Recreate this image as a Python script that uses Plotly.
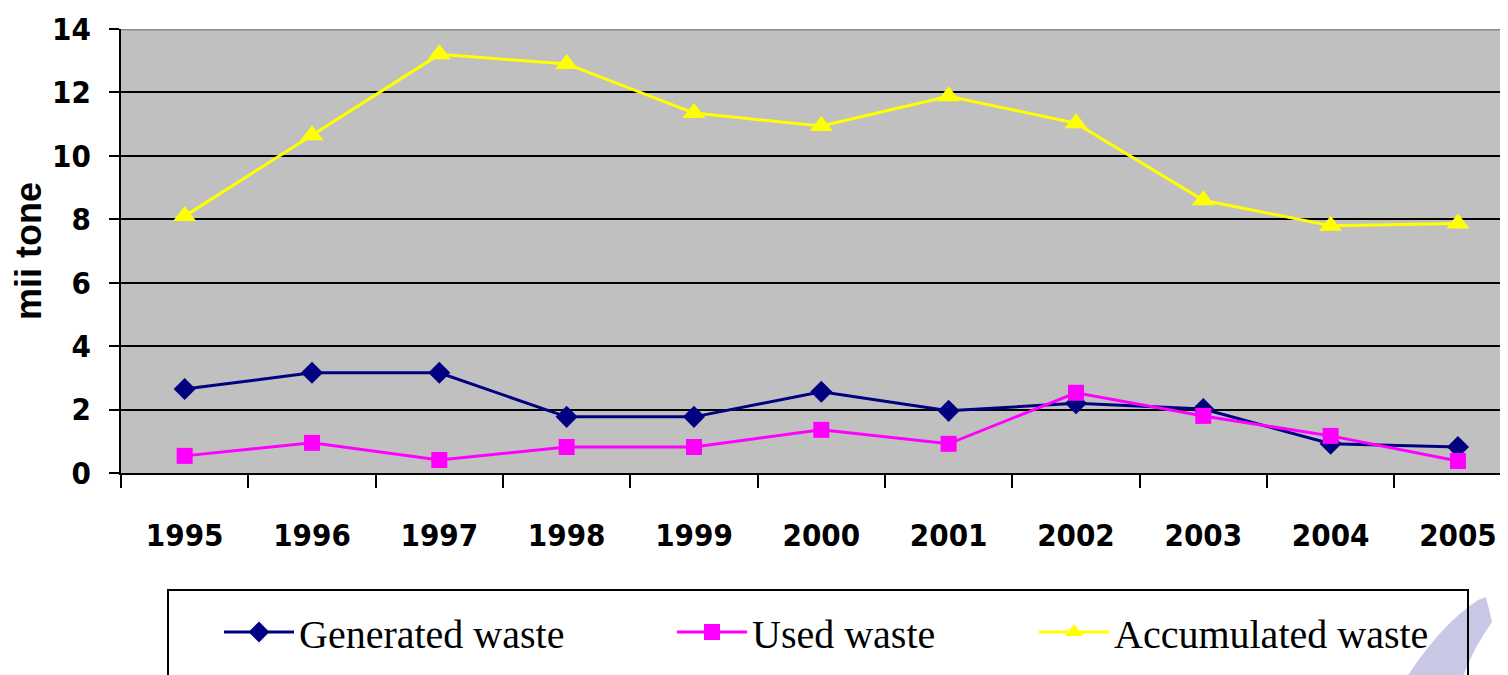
import plotly.graph_objects as go

years = ["1995", "1996", "1997", "1998", "1999", "2000", "2001", "2002", "2003", "2004", "2005"]
generated = [2.65, 3.16, 3.16, 1.77, 1.77, 2.56, 1.96, 2.2, 2.02, 0.92, 0.82]
used = [0.54, 0.95, 0.41, 0.82, 0.82, 1.36, 0.92, 2.53, 1.8, 1.17, 0.38]
accumulated = [8.1, 10.65, 13.2, 12.9, 11.35, 10.94, 11.88, 11.03, 8.6, 7.8, 7.87]
y_ticks = [0, 2, 4, 6, 8, 10, 12, 14]
series_names = ["Generated waste", "Used waste", "Accumulated waste"]

# page has an 8px body margin; figure is sized so it fills the 1508x675 window
OFF = 8
W, H = 1508 - OFF, 675 - OFF
# plot area in page pixels
L_pg, T_pg, B_pg, R_pg = 121, 29, 473, 1508
L, T, B, R = L_pg - OFF, T_pg - OFF, B_pg - OFF, R_pg - OFF


def fx(px):
    return (px - L_pg) / (R_pg - L_pg)


def fy(py):
    return (B_pg - py) / (B_pg - T_pg)


tick_font = dict(family="Liberation Sans Narrow, DejaVu Sans Condensed, Arial Narrow, sans-serif",
                 size=31, color="black", weight="bold")
legend_font = dict(family="Liberation Serif, Times New Roman, serif", size=40, color="black")

fig = go.Figure()
fig.add_trace(go.Scatter(x=years, y=generated, name=series_names[0], mode="lines+markers",
                         line=dict(color="#000080", width=3),
                         marker=dict(symbol="diamond", size=17, color="#000080"),
                         legend="legend"))
fig.add_trace(go.Scatter(x=years, y=used, name=series_names[1], mode="lines+markers",
                         line=dict(color="#FF00FF", width=3),
                         marker=dict(symbol="square", size=16, color="#FF00FF"),
                         legend="legend2"))
fig.add_trace(go.Scatter(x=years, y=accumulated, name=series_names[2], mode="lines+markers",
                         line=dict(color="#FFFF00", width=3),
                         marker=dict(symbol="triangle-up", size=20, color="#FFFF00"),
                         legend="legend3"))

leg_common = dict(orientation="h", yanchor="middle", xanchor="left", font=legend_font,
                  bgcolor="rgba(0,0,0,0)", borderwidth=0, itemwidth=70)

# watermark crescent (page pixel coordinates)
pts = [(1405, 680), (1440, 625), (1478, 600), (1486, 597), (1492, 622), (1472, 650), (1462, 680)]
path = "M {:.4f},{:.4f} Q {:.4f},{:.4f} {:.4f},{:.4f} L {:.4f},{:.4f} L {:.4f},{:.4f} Q {:.4f},{:.4f} {:.4f},{:.4f} Z".format(
    fx(pts[0][0]), fy(pts[0][1]), fx(pts[1][0]), fy(pts[1][1]), fx(pts[2][0]), fy(pts[2][1]),
    fx(pts[3][0]), fy(pts[3][1]), fx(pts[4][0]), fy(pts[4][1]), fx(pts[5][0]), fy(pts[5][1]),
    fx(pts[6][0]), fy(pts[6][1]))

shapes = [
    dict(type="path", xref="paper", yref="paper", path=path,
         fillcolor="#C8C8E6", line=dict(width=0), layer="above"),
    dict(type="rect", xref="paper", yref="paper", x0=fx(168), x1=fx(1468), y0=fy(590), y1=fy(700),
         line=dict(color="black", width=2), fillcolor="rgba(0,0,0,0)", layer="above"),
    dict(type="line", xref="paper", yref="y", x0=0, x1=1, y0=14, y1=14,
         line=dict(color="#8C8C8C", width=3), layer="above"),
]

fig.update_layout(
    width=W, height=H,
    margin=dict(l=L, r=W - R, t=T, b=H - B, pad=0),
    paper_bgcolor="white", plot_bgcolor="#C0C0C0",
    showlegend=True,
    legend=dict(x=fx(219), y=fy(632), **leg_common),
    legend2=dict(x=fx(672), y=fy(632), **leg_common),
    legend3=dict(x=fx(1034), y=fy(632), **leg_common),
    shapes=shapes,
    xaxis=dict(type="category", range=[-0.5, 10.393], showgrid=False,
               showline=True, linecolor="black", linewidth=2,
               ticks="outside", ticklen=13, tickwidth=2, tickcolor="black",
               tickson="boundaries", tickfont=tick_font, ticklabelstandoff=34,
               fixedrange=True),
    yaxis=dict(range=[0, 14], tickvals=y_ticks, showgrid=True, gridcolor="black", gridwidth=2,
               showline=True, linecolor="black", linewidth=2, zeroline=False,
               ticks="outside", ticklen=10, tickwidth=2, tickcolor="black",
               tickfont=tick_font, ticklabelstandoff=12,
               title=dict(text="<b>mii tone</b>", standoff=13,
                          font=dict(family="Liberation Sans, Arial, sans-serif", size=36, color="black"))),
)

fig.write_html("out.html")
